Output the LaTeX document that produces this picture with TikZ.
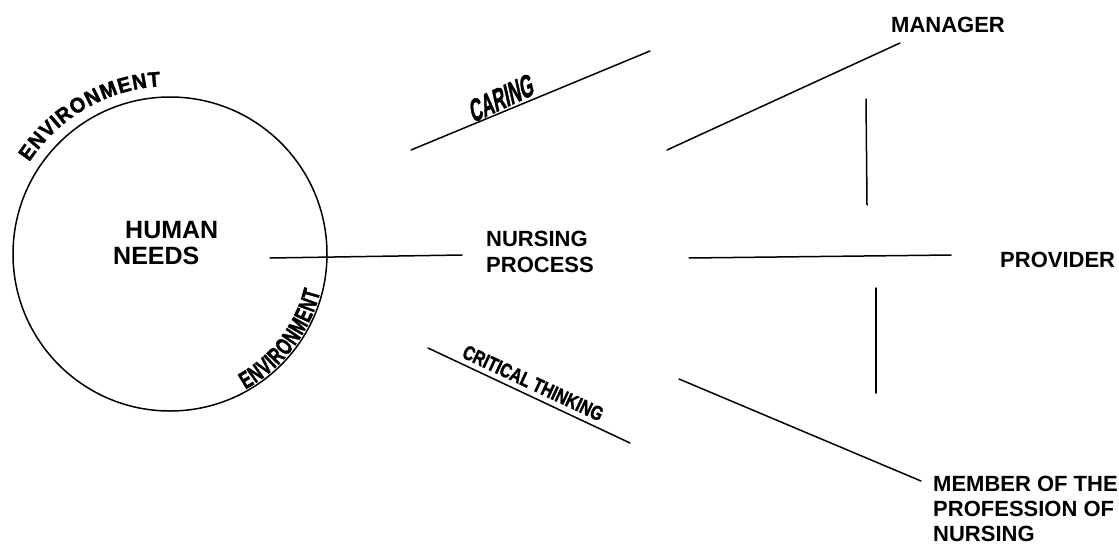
\documentclass[tikz,border=0pt]{standalone}
\usepackage{fontspec}
\setmainfont{Liberation Sans}
\newfontfamily\heavyfont[FakeBold=2]{Liberation Sans Bold}
\usetikzlibrary{calc}
\tikzset{
  lbl/.style={inner sep=0pt, anchor=base west, font=\bfseries\fontsize{22}{26}\selectfont},
  biglbl/.style={lbl, font=\bfseries\fontsize{25}{29}\selectfont},
  conn/.style={line width=1.5pt, line cap=round},
  envchar/.style={inner sep=0pt, anchor=base, font=\heavyfont\fontsize{21}{21}\selectfont},
  envcharb/.style={inner sep=0pt, anchor=base, font=\heavyfont\fontsize{24}{24}\selectfont},
}
\begin{document}
\begin{tikzpicture}[x=1pt,y=1pt]
\useasboundingbox (0,-544) rectangle (1119,0);
% circle
\coordinate (c) at (170,-254);
\draw[line width=1.5pt] (c) circle[radius=157];
% curved label outside, top left
\foreach \ch/\fr [count=\i] in {E/.0451,N/.1391,V/.2331,I/.2971,R/.3647,O/.4662,N/.5677,M/.6730,E/.7745,N/.8685,T/.9587}{
  \pgfmathsetmacro{\ang}{147-54*\fr}
  \node[envchar, rotate=\ang-90, xscale=0.95] (envA\i) at ($(c)+(\ang:168)$) {\ch};
}
% curved label inside, bottom right
\foreach \ch/\fr [count=\i] in {E/.0451,N/.1391,V/.2331,I/.2971,R/.3647,O/.4662,N/.5677,M/.6730,E/.7745,N/.8685,T/.9587}{
  \pgfmathsetmacro{\ang}{-61+47*\fr}
  \node[envcharb, rotate=\ang+90, xscale=0.68] (envB\i) at ($(c)+(\ang:155)$) {\ch};
}
% text labels
\node[biglbl] (human) at (125,-238) {HUMAN};
\node[biglbl] (needs) at (113,-264) {NEEDS};
\node[lbl] (nursing) at (486,-246) {NURSING};
\node[lbl] (process) at (486,-272) {PROCESS};
\node[lbl] (manager) at (891,-32) {MANAGER};
\node[lbl] (provider) at (1000,-267) {PROVIDER};
\node[lbl] (member) at (933,-491) {MEMBER OF THE};
\node[lbl] (profession) at (933,-516) {PROFESSION OF};
\node[lbl] (nursing2) at (933,-541) {NURSING};
\node[inner sep=0pt, anchor=base west, rotate=25, xslant=0.22, xscale=0.56,
  font=\heavyfont\fontsize{31}{31}\selectfont] (caring) at (473,-123) {CARING};
\node[inner sep=0pt, anchor=base west, rotate=-25, xscale=0.78,
  font=\heavyfont\fontsize{20}{20}\selectfont] (crit) at (461,-357) {CRITICAL THINKING};
% connector end points
\coordinate (hn1) at (270,-258); \coordinate (hn2) at (462,-255);
\coordinate (car1) at (411,-150); \coordinate (car2) at (650,-51);
\coordinate (man1) at (667,-150); \coordinate (man2) at (900,-43);
\coordinate (va1) at (866,-99); \coordinate (va2) at (867,-205);
\coordinate (pr1) at (689,-258); \coordinate (pr2) at (951,-255);
\coordinate (vb1) at (876,-288); \coordinate (vb2) at (876,-393);
\coordinate (ct1) at (428,-348); \coordinate (ct2) at (630,-443);
\coordinate (mem1) at (679,-379); \coordinate (mem2) at (921,-481);
% connectors
\draw[conn] (hn1) -- (hn2);
\draw[conn] (car1) -- (car2);
\draw[conn] (man1) -- (man2);
\draw[conn] (va1) -- (va2);
\draw[conn] (pr1) -- (pr2);
\draw[conn] (vb1) -- (vb2);
\draw[conn] (ct1) -- (ct2);
\draw[conn] (mem1) -- (mem2);
\end{tikzpicture}
\end{document}
